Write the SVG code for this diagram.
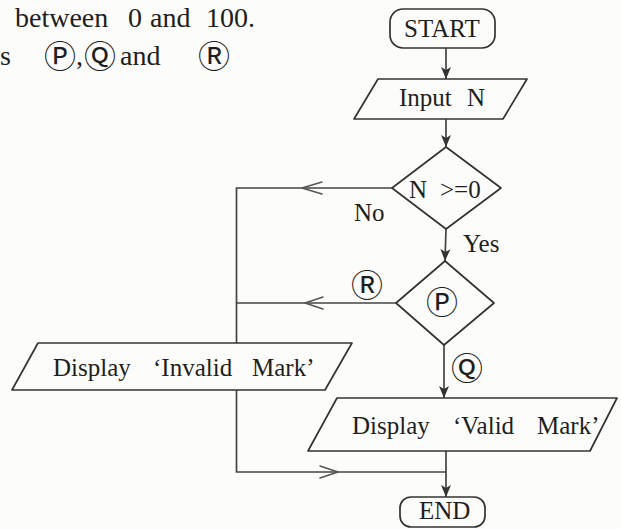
<svg xmlns="http://www.w3.org/2000/svg" width="621" height="529" viewBox="0 0 621 529">
  <defs>
    <style>
      .bg { fill: #fcfcfa; }
      .shape { fill: none; stroke: #333; stroke-width: 1.7; stroke-linejoin: round; }
      .line { fill: none; stroke: #444; stroke-width: 1.7; }
      .chev { fill: none; stroke: #555; stroke-width: 1.5; stroke-linecap: round; stroke-linejoin: round; }
      .t { font-family: "Liberation Serif", "Times New Roman", serif; font-size: 25px; fill: #1e1e1e; }
      .hd { font-family: "Liberation Serif", "Times New Roman", serif; font-size: 28px; fill: #1e1e1e; }
      .c { font-family: "DejaVu Serif", "DejaVu Sans", "Noto Sans CJK JP", serif; font-size: 32px; fill: #1e1e1e; text-anchor: middle; }
    </style>
    <marker id="arr" viewBox="0 0 12 12" refX="12" refY="6" markerWidth="12" markerHeight="12" markerUnits="userSpaceOnUse" orient="auto">
      <path d="M0,1 L12,6 L0,11 L3,6 Z" fill="#333"/>
    </marker>
  </defs>
  <rect class="bg" x="0" y="0" width="621" height="529"/>

  <g id="header">
    <text class="hd" x="15" y="27">between</text>
    <text class="hd" x="128" y="27">0</text>
    <text class="hd" x="150" y="27">and</text>
    <text class="hd" x="206" y="27">100.</text>
    <text class="hd" x="0" y="65">s</text>
    <text class="c" x="60" y="68">Ⓟ</text>
    <text class="hd" x="76" y="65">,</text>
    <text class="c" x="100" y="68">Ⓠ</text>
    <text class="hd" x="120" y="65">and</text>
    <text class="c" x="214" y="68">Ⓡ</text>
  </g>

  <g id="connectors">
    <line class="line" x1="446" y1="48" x2="446" y2="79" marker-end="url(#arr)"/>
    <line class="line" x1="446" y1="119" x2="446" y2="147" marker-end="url(#arr)"/>
    <line class="line" x1="446" y1="229" x2="445" y2="261" marker-end="url(#arr)"/>
    <polyline class="line" points="392,188 236.5,188 236.5,343"/>
    <polyline class="chev" points="322,182 302,188 322,194"/>
    <line class="line" x1="396" y1="303" x2="236.5" y2="303"/>
    <polyline class="chev" points="323,297 305,303 323,309"/>
    <line class="line" x1="444" y1="345" x2="444" y2="398" marker-end="url(#arr)"/>
    <polyline class="line" points="236.5,390 236.5,472 446,472"/>
    <polyline class="chev" points="320,466 338,472 320,478"/>
    <line class="line" x1="446" y1="451" x2="446" y2="497" marker-end="url(#arr)"/>
    <text class="t" x="354" y="221">No</text>
    <text class="t" x="463" y="252">Yes</text>
    <text class="c" x="367" y="297">Ⓡ</text>
    <text class="c" x="467" y="380">Ⓠ</text>
  </g>

  <g id="start">
    <rect class="shape" x="390" y="9" width="105" height="39" rx="13"/>
    <text class="t" x="404" y="37">START</text>
  </g>

  <g id="input">
    <polygon class="shape" points="378,79 527,79 503,119 354,119"/>
    <text class="t" x="399" y="106">Input</text>
    <text class="t" x="467" y="106">N</text>
  </g>

  <g id="decision1">
    <polygon class="shape" points="446,147 501,188 446,229 392,188"/>
    <text class="t" x="409" y="198">N</text>
    <text class="t" x="440" y="198">&gt;=0</text>
  </g>

  <g id="decision2">
    <polygon class="shape" points="445,261 494,303 444,345 396,303"/>
    <text class="c" x="442" y="314">Ⓟ</text>
  </g>

  <g id="invalid">
    <polygon class="shape" points="38,343 352,343 325,390 12,390"/>
    <text class="t" x="53" y="376">Display</text>
    <text class="t" x="153" y="376">‘Invalid</text>
    <text class="t" x="252" y="376">Mark’</text>
  </g>

  <g id="valid">
    <polygon class="shape" points="337,398 617,398 590,451 308,451"/>
    <text class="t" x="352" y="434">Display</text>
    <text class="t" x="453" y="434">‘Valid</text>
    <text class="t" x="537" y="434">Mark’</text>
  </g>

  <g id="end">
    <rect class="shape" x="400" y="497" width="85" height="30" rx="11"/>
    <text class="t" x="419" y="519">END</text>
  </g>
</svg>
